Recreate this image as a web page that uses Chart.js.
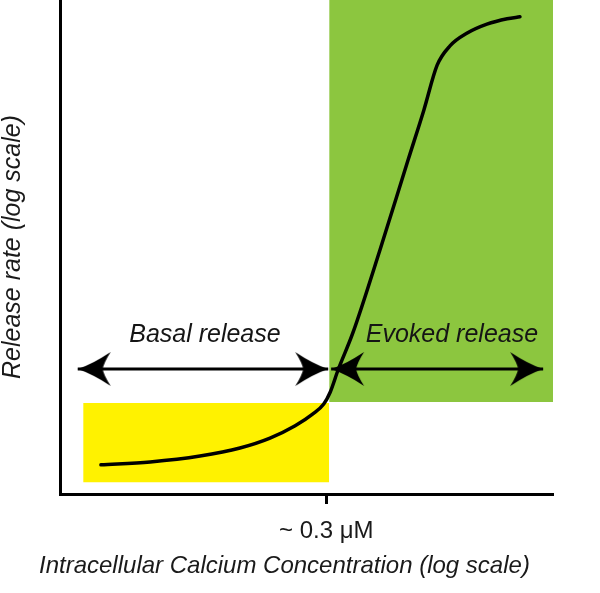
<!DOCTYPE html>
<html>
<head>
<meta charset="utf-8">
<script src="https://cdn.jsdelivr.net/npm/chart.js@4/dist/chart.umd.min.js"></script>
<style>
  html, body { margin: 0; padding: 0; background: #ffffff; }
  #wrap { position: relative; width: 600px; height: 593px; }
</style>
</head>
<body>
<div id="wrap"><canvas id="c"></canvas></div>
<script>
// ---- data (arbitrary linear units 0..100 on both log axes) ----
const curveX = [8.3, 18.3, 28.4, 36.5, 42.6, 47.7, 51.3, 53.5, 54.8, 56.4, 59.4, 64.9, 70.6, 73.8, 76.5, 79.1, 82.6, 86.6, 90.7, 93.3];
const curveY = [5.9, 6.5, 7.7, 9.3, 11.3, 13.8, 16.2, 18.2, 20.6, 25.1, 32.6, 49.4, 67.6, 77.7, 86.8, 90.7, 93.3, 95.1, 96.2, 96.6];

const basalZoneX = [4.7, 54.6];     // yellow band, x extent
const basalZoneY = [2.4, 18.4];     // yellow band, y extent
const evokedZoneX = [54.6, 100];    // green band, x extent
const evokedZoneY = [18.6, 100];    // green band, y extent

const basalArrowX = [3.6, 54.4];
const evokedArrowX = [55.0, 98.0];
const arrowLevel = 25.3;

const xTickValues = [54.0];
const xTickLabels = ['~ 0.3 \u03BCM'];

const regionLabels = ['Basal release', 'Evoked release'];
const xTitle = 'Intracellular Calcium Concentration (log scale)';
const yTitle = 'Release rate (log scale)';

// ---- arrowhead image (tip at canvas centre, pointing right) ----
function makeArrowHead() {
  const c = document.createElement('canvas');
  c.width = 72; c.height = 40;
  const g = c.getContext('2d');
  const tx = 36, ty = 20;
  g.fillStyle = '#000';
  g.beginPath();
  g.moveTo(tx, ty);
  g.quadraticCurveTo(tx - 15, ty - 5, tx - 33, ty - 17);
  g.quadraticCurveTo(tx - 26, ty - 6, tx - 25, ty);
  g.quadraticCurveTo(tx - 26, ty + 6, tx - 33, ty + 17);
  g.quadraticCurveTo(tx - 15, ty + 5, tx, ty);
  g.closePath();
  g.fill();
  return c;
}
const arrowHead = makeArrowHead();

function rectData(xs, ys) {
  return [{ x: xs[0], y: ys[1] }, { x: xs[1], y: ys[1] }];
}

const textPlugin = {
  id: 'textPlugin',
  afterDatasetsDraw(chart) {
    const { ctx, scales: { x, y }, chartArea } = chart;
    ctx.save();
    ctx.fillStyle = '#151515';
    ctx.font = 'italic 25px "Liberation Sans", Arial, sans-serif';
    ctx.textAlign = 'center';
    ctx.textBaseline = 'alphabetic';
    const spots = [
      { text: regionLabels[0], x: 29.4, y: 30.8 },
      { text: regionLabels[1], x: 79.5, y: 30.8 }
    ];
    spots.forEach(s => ctx.fillText(s.text, x.getPixelForValue(s.x), y.getPixelForValue(s.y)));
    // x axis title
    ctx.font = 'italic 24px "Liberation Sans", Arial, sans-serif';
    ctx.fillStyle = '#1a1a1a';
    ctx.textAlign = 'left';
    ctx.fillText(xTitle, chartArea.left - 21, chart.height - 20);
    ctx.restore();
  }
};

new Chart(document.getElementById('c'), {
  type: 'line',
  data: {
    datasets: [
      {
        label: 'curve',
        data: curveX.map((v, i) => ({ x: v, y: curveY[i] })),
        borderColor: '#000',
        borderWidth: 3.5,
        borderCapStyle: 'round',
        cubicInterpolationMode: 'monotone',
        pointRadius: 0,
        fill: false,
        order: 1
      },
      {
        label: 'basal arrow',
        data: basalArrowX.map(v => ({ x: v, y: arrowLevel })),
        borderColor: '#000',
        borderWidth: 3,
        pointStyle: arrowHead,
        pointRadius: 5,
        pointRotation: [180, 0],
        fill: false,
        order: 2
      },
      {
        label: 'evoked arrow',
        data: evokedArrowX.map(v => ({ x: v, y: arrowLevel })),
        borderColor: '#000',
        borderWidth: 3,
        pointStyle: arrowHead,
        pointRadius: 5,
        pointRotation: [180, 0],
        fill: false,
        order: 2
      },
      {
        label: 'basal zone',
        data: rectData(basalZoneX, basalZoneY),
        borderColor: 'rgba(0,0,0,0)',
        borderWidth: 0,
        backgroundColor: '#fff200',
        pointRadius: 0,
        fill: { value: basalZoneY[0] },
        order: 10
      },
      {
        label: 'evoked zone',
        data: rectData(evokedZoneX, evokedZoneY),
        borderColor: 'rgba(0,0,0,0)',
        borderWidth: 0,
        backgroundColor: '#8cc63f',
        pointRadius: 0,
        fill: { value: evokedZoneY[0] },
        order: 10
      }
    ]
  },
  options: {
    responsive: true,
    maintainAspectRatio: false,
    animation: false,
    events: [],
    layout: { autoPadding: false, padding: { left: 0, right: 47, top: 0, bottom: 0 } },
    plugins: { legend: { display: false }, tooltip: { enabled: false } },
    scales: {
      x: {
        type: 'linear',
        min: 0, max: 100,
        afterFit(s) { s.height = 99; },
        afterBuildTicks(s) { s.ticks = xTickValues.map(v => ({ value: v })); },
        ticks: {
          autoSkip: false, maxRotation: 0,
          padding: 13,
          color: '#1a1a1a',
          font: { family: '"Liberation Sans", Arial, sans-serif', size: 24 },
          callback: (v, i) => xTickLabels[i]
        },
        grid: { display: true, drawOnChartArea: false, drawTicks: true, tickLength: 10, tickWidth: 3, color: '#000' },
        border: { display: true, color: '#000', width: 3 }
      },
      y: {
        type: 'linear',
        min: 0, max: 100,
        afterFit(s) { s.width = 60; },
        ticks: { display: false },
        grid: { display: false, drawTicks: false },
        border: { display: true, color: '#000', width: 3 },
        title: {
          display: true,
          text: yTitle,
          color: '#1a1a1a',
          padding: { top: 1, bottom: 0 },
          font: { family: '"Liberation Sans", Arial, sans-serif', size: 25, style: 'italic', lineHeight: 1 }
        }
      }
    }
  },
  plugins: [textPlugin]
});
</script>
</body>
</html>
